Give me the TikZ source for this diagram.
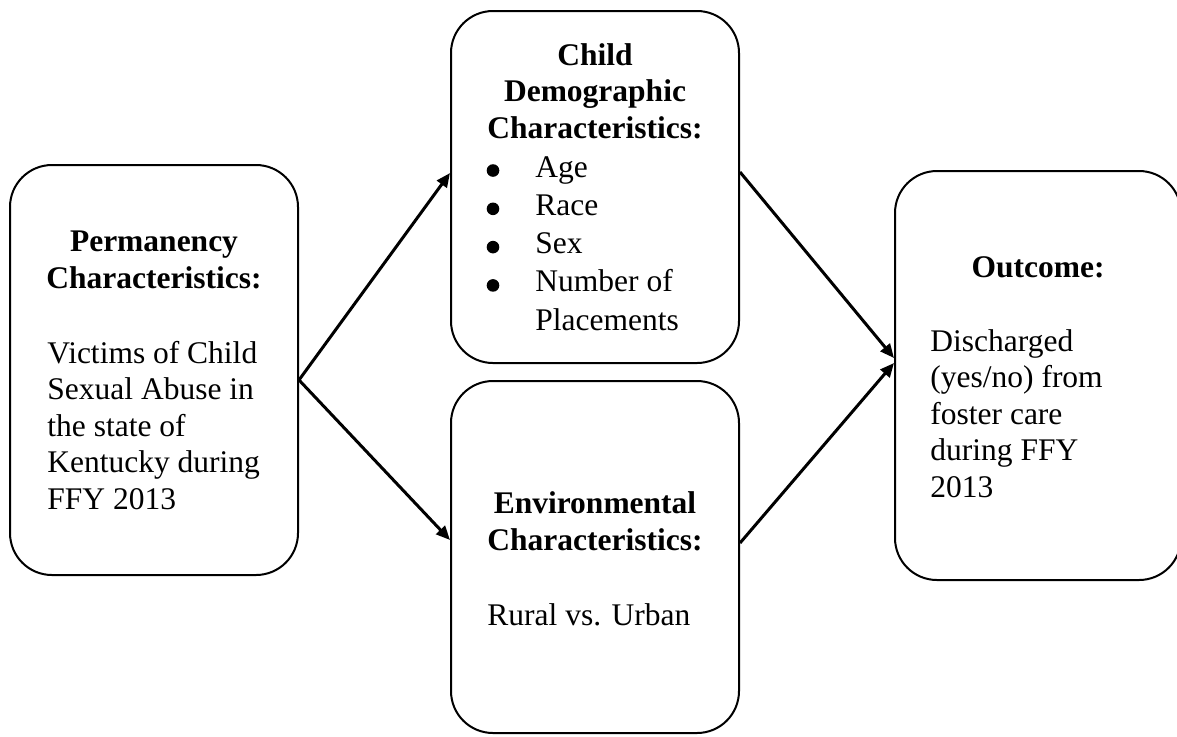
\documentclass[tikz,border=0pt]{standalone}
\usepackage{fontspec}
\setmainfont{Liberation Serif}
\usetikzlibrary{arrows.meta}
\begin{document}
\begin{tikzpicture}[x=0.5pt,y=-0.5pt,
  box/.style={draw, line width=1pt, rounded corners=21pt, inner sep=0pt},
  txt/.style={font=\fontsize{15.75}{18.25}\selectfont, inner sep=0pt, align=left, anchor=base west},
  hd/.style={font=\fontsize{15.75}{18.25}\selectfont\bfseries, inner sep=0pt, align=center, anchor=base},
  bul/.style={circle, fill, inner sep=0pt, minimum size=6.3pt},
  arr/.style={line width=1.5pt, -{Triangle[length=7pt,width=6pt]}}]
\useasboundingbox (0,0) rectangle (1177,736);
\begin{scope}
\clip (0,0) rectangle (1177,736);
% boxes
\node[box, minimum width=144pt, minimum height=205pt] (perm) at (154,370) {};
\node[box, minimum width=144pt, minimum height=176pt] (demo) at (595,187) {};
\node[box, minimum width=144pt, minimum height=176pt] (env) at (595,557) {};
\node[box, minimum width=143pt, minimum height=204.5pt] (out) at (1038,375.5) {};
\end{scope}
% left box text (anchor = baseline of last line)
\node[hd] (permh) at (154,288) {Permanency\\Characteristics:};
\node[txt] (permt) at (47,509) {Victims of Child\\Sexual Abuse in\\the state of\\Kentucky during\\FFY 2013};
% top box text
\node[hd] (demoh) at (595,138) {Child\\Demographic\\Characteristics:};
\node[bul] (b1) at (493,170.5) {};
\node[bul] (b2) at (493,208.8) {};
\node[bul] (b3) at (493,247.1) {};
\node[bul] (b4) at (493,285.4) {};
\node[txt] (l1) at (535,177) {Age};
\node[txt] (l2) at (535,215.3) {Race};
\node[txt] (l3) at (535,253.6) {Sex};
\node[txt] (l4) at (535,291.9) {Number of};
\node[txt] (l5) at (535,330.2) {Placements};
% bottom box text
\node[hd] (envh) at (595,550) {Environmental\\Characteristics:};
\node[txt] (envt) at (487,625) {Rural vs. Urban};
% right box text
\node[hd] (outh) at (1038,277) {Outcome:};
\node[txt] (outt) at (930,497) {Discharged\\(yes/no) from\\foster care\\during FFY\\2013};
% connectors
\coordinate (j) at ([yshift=-5pt]perm.east);
\draw[arr] (j) -- ([yshift=7pt]demo.west);
\draw[arr] (j) -- ([yshift=8.5pt]env.west);
\draw[arr] ([yshift=7.5pt]demo.east) -- ([yshift=8.75pt]out.west);
\draw[arr] ([yshift=7pt]env.east) -- ([yshift=6.25pt]out.west);
\end{tikzpicture}
\end{document}
